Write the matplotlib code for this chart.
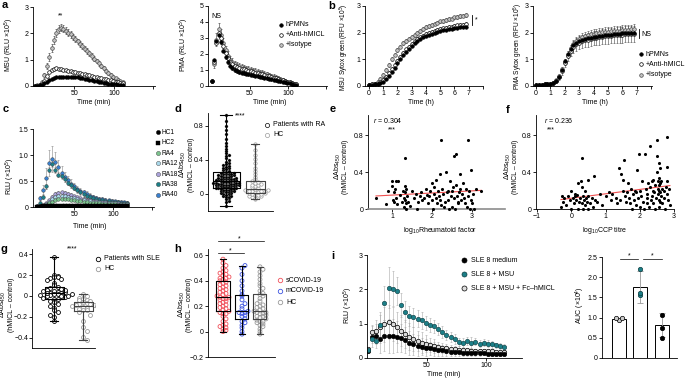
import numpy as np
import matplotlib
matplotlib.use('Agg')
import matplotlib.pyplot as plt
from matplotlib.lines import Line2D

FS = 5
plt.rcParams['font.family'] = ['Liberation Sans', 'DejaVu Sans']
plt.rcParams['mathtext.fontset'] = 'custom'
plt.rcParams['mathtext.rm'] = 'Liberation Sans'
plt.rcParams['mathtext.it'] = 'Liberation Sans:italic'
plt.rcParams['font.size'] = FS
plt.rcParams['axes.linewidth'] = 0.6

# ---------------- data ----------------
# a: luminol RLU (x10^5), sampled every 3 min
msu_iso = [0.0,0.02,0.05,0.15,0.4,0.75,1.1,1.45,1.75,2.0, 2.15,2.22,2.18,2.1,2.03,1.96,1.87,1.78,1.69,1.6,
           1.51,1.42,1.33,1.24,1.14,1.04,0.95,0.86,0.77,0.68, 0.58,0.5,0.41,0.35,0.29,0.23,0.19,0.15]
msu_iso_err = [0,0.01,0.02,0.04,0.08,0.12,0.15,0.15,0.15,0.15, 0.15,0.14,0.14,0.13,0.13,0.12,0.12,0.12,0.11,0.11,
               0.11,0.1,0.1,0.1,0.1,0.09,0.09,0.09,0.08,0.08, 0.08,0.07,0.07,0.07,0.06,0.06,0.05,0.05]
msu_anti = [0,0.01,0.03,0.08,0.2,0.38,0.52,0.6,0.65,0.67, 0.66,0.64,0.62,0.6,0.58,0.56,0.54,0.52,0.5,0.48,
            0.46,0.44,0.42,0.4,0.37,0.35,0.33,0.31,0.29,0.27, 0.25,0.23,0.21,0.19,0.17,0.15,0.13,0.12]
msu_pmn = [0,0.01,0.02,0.05,0.1,0.16,0.22,0.27,0.31,0.34, 0.35,0.36,0.36,0.36,0.36,0.35,0.35,0.34,0.33,0.31,
           0.3,0.28,0.26,0.24,0.22,0.2,0.18,0.16,0.14,0.12, 0.11,0.09,0.08,0.07,0.06,0.05,0.04,0.03]
pma_pmn = [0.3,1.6,2.8,3.2,2.75,2.2,1.8,1.5,1.28,1.12, 1.0,0.93,0.88,0.84,0.8,0.77,0.73,0.7,0.67,0.64,
           0.61,0.58,0.55,0.52,0.49,0.46,0.43,0.4,0.37,0.34, 0.31,0.27,0.24,0.2,0.16,0.12,0.09,0.06]
pma_anti = [0.3,1.5,2.7,3.3,3.0,2.5,2.05,1.72,1.5,1.35, 1.25,1.18,1.12,1.08,1.04,1.0,0.96,0.92,0.88,0.84,
            0.8,0.76,0.72,0.68,0.64,0.6,0.56,0.52,0.48,0.44, 0.4,0.36,0.32,0.27,0.22,0.17,0.13,0.1]
pma_iso = [0.3,1.4,2.9,3.55,3.2,2.7,2.25,1.9,1.65,1.48, 1.36,1.28,1.22,1.17,1.12,1.08,1.04,1.0,0.96,0.92,
           0.88,0.84,0.8,0.76,0.72,0.67,0.62,0.57,0.52,0.47, 0.42,0.38,0.33,0.28,0.23,0.18,0.14,0.1]
pma_iso_err = [0.1,0.3,0.4,0.4,0.35,0.3,0.28,0.26,0.25,0.24, 0.23,0.22,0.22,0.21,0.21,0.2,0.2,0.2,0.19,0.19,
               0.18,0.18,0.17,0.17,0.16,0.16,0.15,0.15,0.14,0.14, 0.13,0.12,0.11,0.1,0.09,0.08,0.07,0.06]
pma_pmn_err = 0.1

# b: Sytox green RFU (x10^5), every 0.2 h
sy_msu_pmn = [0.05,0.05,0.06,0.07,0.1,0.15,0.25,0.38,0.52,0.68, 0.85,1.0,1.15,1.28,1.4,1.5,1.6,1.68,1.75,1.82,
              1.87,1.92,1.96,2.0,2.03,2.06,2.09,2.11,2.13,2.15, 2.17,2.19,2.2,2.22,2.23]
sy_msu_anti = [0.05,0.06,0.07,0.09,0.14,0.22,0.34,0.48,0.63,0.79, 0.95,1.1,1.24,1.37,1.48,1.58,1.67,1.75,1.82,1.88,
               1.94,1.99,2.03,2.07,2.1,2.13,2.16,2.19,2.21,2.23, 2.25,2.27,2.29,2.3,2.32]
sy_msu_iso = [0.05,0.07,0.09,0.14,0.25,0.41,0.6,0.8,1.0,1.18, 1.35,1.48,1.6,1.7,1.78,1.85,1.92,1.99,2.06,2.13,
              2.2,2.25,2.3,2.34,2.38,2.42,2.45,2.48,2.5,2.53, 2.57,2.6,2.62,2.64,2.66]
sy_msu_err = 0.07
sy_pma_pmn = [0.05,0.05,0.05,0.06,0.07,0.09,0.12,0.2,0.35,0.6, 0.92,1.2,1.4,1.53,1.62,1.68,1.73,1.76,1.79,1.81,
              1.83,1.85,1.87,1.89,1.9,1.92,1.93,1.94,1.95,1.96, 1.97,1.98,1.99,1.99,2.0]
sy_pma_anti = [0.05,0.05,0.05,0.06,0.07,0.08,0.11,0.18,0.32,0.55, 0.85,1.12,1.33,1.47,1.56,1.62,1.67,1.71,1.74,1.77,
               1.79,1.81,1.83,1.85,1.86,1.88,1.89,1.9,1.91,1.92, 1.93,1.94,1.95,1.95,1.96]
sy_pma_iso = [0.05,0.05,0.05,0.06,0.07,0.09,0.13,0.22,0.38,0.62, 0.9,1.18,1.42,1.58,1.7,1.78,1.84,1.88,1.91,1.94,
              1.96,1.98,2.0,2.02,2.03,2.04,2.05,2.06,2.07,2.08, 2.09,2.1,2.11,2.12,2.13]
sy_pma_anti_err = [0.01,0.01,0.01,0.01,0.02,0.02,0.03,0.05,0.08,0.12, 0.15,0.18,0.2,0.22,0.23,0.24,0.25,0.25,0.26,0.26,
                   0.27,0.27,0.28,0.28,0.28,0.29,0.29,0.29,0.3,0.3, 0.3,0.3,0.3,0.3,0.3]
sy_pma_iso_err = [0.01,0.01,0.01,0.01,0.02,0.02,0.03,0.04,0.06,0.08, 0.1,0.12,0.13,0.14,0.15,0.15,0.15,0.16,0.16,0.16,
                  0.16,0.16,0.17,0.17,0.17,0.17,0.17,0.18,0.18,0.18, 0.18,0.18,0.18,0.18,0.18]

# c: patient RLU (x10^5), every 4 min from 2 min
c_names = ['HC1', 'HC2', 'RA4', 'RA12', 'RA18', 'RA38', 'RA40']
c_hc1 = [0.0,0.01,0.01,0.02,0.02,0.02,0.02,0.02,0.02,0.02, 0.02,0.02,0.02,0.02,0.02,0.02,0.01,0.01,0.01,0.01,
         0.01,0.01,0.01,0.01,0.01,0.01,0.01,0.01,0.01,0.01]
c_hc2 = [0.0,0.0,0.01,0.01,0.01,0.01,0.01,0.01,0.01,0.01, 0.01,0.01,0.01,0.01,0.01,0.01,0.01,0.01,0.01,0.01,
         0.01,0.01,0.01,0.01,0.01,0.01,0.01,0.01,0.01,0.01]
c_ra4 = [0.0,0.01,0.02,0.04,0.07,0.1,0.13,0.15,0.16,0.16, 0.15,0.14,0.13,0.12,0.11,0.1,0.09,0.08,0.08,0.07,
         0.07,0.06,0.06,0.05,0.05,0.05,0.04,0.04,0.04,0.04]
c_ra12 = [0.0,0.01,0.02,0.05,0.1,0.15,0.19,0.21,0.22,0.21, 0.2,0.18,0.17,0.16,0.14,0.13,0.12,0.11,0.1,0.1,
          0.09,0.08,0.08,0.07,0.07,0.07,0.06,0.06,0.06,0.05]
c_ra18 = [0.0,0.01,0.03,0.07,0.13,0.2,0.25,0.27,0.28,0.27, 0.25,0.23,0.21,0.19,0.17,0.16,0.14,0.13,0.12,0.11,
          0.1,0.09,0.09,0.08,0.08,0.07,0.07,0.06,0.06,0.06]
c_ra38 = [0.01,0.08,0.2,0.4,0.72,0.82,0.72,0.62,0.6,0.53, 0.47,0.42,0.37,0.32,0.28,0.25,0.22,0.2,0.18,0.16,
          0.14,0.13,0.12,0.11,0.1,0.09,0.09,0.08,0.07,0.07]
c_ra40 = [0.02,0.17,0.33,0.55,0.85,0.93,0.86,0.76,0.66,0.58, 0.51,0.45,0.4,0.35,0.31,0.28,0.25,0.22,0.2,0.18,
          0.16,0.15,0.14,0.13,0.12,0.11,0.1,0.09,0.09,0.08]
c_ra40_err = [0,0.05,0.1,0.2,0.25,0.25,0.2,0.15,0.12,0.1, 0.09,0.08,0.07,0.06,0.06,0.05,0.05,0.05,0.04,0.04,
              0.04,0.04,0.03,0.03,0.03,0.03,0.03,0.03,0.03,0.03]
c_ra38_err = 0.05
c_ra18_err = 0.03

# d: RA vs HC
d_ra = [-0.14,-0.1,-0.08,-0.06,-0.05,-0.04,-0.03,-0.02,-0.02,-0.01, 0.0,0.0,0.01,0.01,0.02,0.02,0.03,0.03,0.04,0.04,
        0.05,0.05,0.05,0.06,0.06,0.06,0.07,0.07,0.07,0.08, 0.08,0.08,0.09,0.09,0.09,0.1,0.1,0.1,0.1,0.11,
        0.11,0.11,0.12,0.12,0.12,0.12,0.13,0.13,0.13,0.13, 0.14,0.14,0.14,0.15,0.15,0.15,0.16,0.16,0.16,0.17,
        0.17,0.17,0.18,0.18,0.18,0.19,0.19,0.2,0.2,0.2, 0.21,0.21,0.22,0.22,0.23,0.23,0.24,0.24,0.25,0.25,
        0.26,0.27,0.28,0.29,0.3,0.31,0.32,0.33,0.34,0.35, 0.36,0.38,0.4,0.42,0.44,0.46,0.48,0.5,0.53,0.56,
        0.6,0.65,0.7,0.75,0.8,0.86,0.93]
d_hc = [-0.06,-0.05,-0.04,-0.03,-0.02,-0.02,-0.01,-0.01,0.0,0.0, 0.01,0.01,0.02,0.02,0.03,0.03,0.04,0.04,0.05,0.05,
        0.06,0.07,0.08,0.09,0.1,0.11,0.12,0.13,0.14,0.15, 0.17,0.2,0.23,0.27,0.31,0.36,0.41,0.46,0.52,0.59]

# e: rheumatoid factor vs dAbs
rf_x = [0.6,0.85,0.9,1.0,1.0,1.02,1.05,1.05,1.08,1.1, 1.1,1.12,1.15,1.2,1.25,1.28,1.3,1.3,1.32,1.33,
        1.33,1.33,1.35,1.35,1.35,1.38,1.4,1.45,1.5,1.55, 1.6,1.62,1.65,1.7,1.72,1.75,1.8,1.85,1.88,1.9,
        1.92,1.95,2.0,2.0,2.02,2.05,2.05,2.1,2.1,2.12, 2.15,2.18,2.2,2.2,2.22,2.24,2.25,2.28,2.3,2.32,
        2.35,2.38,2.4,2.4,2.42,2.45,2.48,2.5,2.5,2.52, 2.55,2.55,2.58,2.6,2.6,2.62,2.65,2.66,2.68,2.7,
        2.7,2.72,2.75,2.78,2.8,2.82,2.85,2.88,2.9,2.91, 2.92,2.95,2.98,2.99,3.0,3.02,3.05,3.1,3.24]
rf_y = [0.12,0.05,0.2,0.25,0.3,0.1,0.18,0.08,0.22,0.3, 0.12,0.05,0.3,0.15,0.08,0.2,0.02,0.12,0.25,0.55,
        0.18,0.1,0.06,0.22,0.0,0.14,0.08,0.03,0.2,0.12, 0.16,0.0,0.08,0.14,0.18,0.1,0.12,0.22,0.15,0.06,
        0.14,0.2,0.1,0.28,0.0,0.16,0.24,0.12,0.32,0.06, 0.2,0.14,0.38,0.1,0.75,0.04,0.22,0.16,0.02,0.08,
        0.4,0.18,0.2,0.1,0.0,0.3,0.14,0.02,0.2,0.24, 0.58,0.12,0.0,0.6,0.26,0.14,0.06,0.08,0.18,0.22,
        0.38,0.1,0.16,0.28,0.12,0.06,0.22,0.02,0.14,0.75, 0.2,0.0,0.1,0.42,0.06,0.16,0.0,0.22,0.19]

# f: CCP titre vs dAbs
ccp_x = [-0.3,-0.28,-0.25,-0.2,-0.15,-0.1,-0.05,0.0,0.0,0.05, 0.08,0.1,0.12,0.15,0.18,0.2,0.2,0.22,0.25,0.28,
         0.3,0.3,0.32,0.35,0.35,0.38,0.4,0.4,0.42,0.45, 0.48,0.5,0.5,0.55,0.6,0.62,0.65,0.7,0.75,0.85,
         0.9,1.0,1.1,1.15,1.2,1.3,1.35,1.4,1.42,1.45, 1.5,1.52,1.55,1.58,1.6,1.62,1.65,1.7,1.72,1.75,
         1.78,1.8,1.82,1.85,1.88,1.9,1.92,1.95,1.98,2.0, 2.02,2.05,2.08,2.1,2.12,2.15,2.18,2.2,2.2,2.22,
         2.25,2.28,2.3,2.3,2.32,2.35,2.35,2.38,2.4,2.4, 2.42,2.45,2.45,2.48,2.5,2.5,2.5,2.52,2.52,2.52,
         2.55,2.55,2.55,2.55,2.55,2.55,2.58,2.58,2.6,2.6, 2.62,2.62,2.65,2.65,2.7,2.7,2.75,2.78,2.8,2.8,
         2.8,2.8,2.82,2.85,2.88]
ccp_y = [0.02,0.14,0.08,0.12,0.04,0.14,0.1,0.0,0.2,0.12, 0.06,0.16,0.14,0.1,0.15,0.28,0.0,0.08,0.12,0.3,
         0.24,0.55,0.06,0.14,0.0,0.1,0.2,0.04,0.12,0.08, 0.32,0.0,0.14,0.06,0.12,0.02,0.36,0.1,0.08,0.16,
         0.04,0.14,0.18,0.1,0.16,0.12,0.06,0.45,0.1,0.38, 0.2,0.32,0.53,0.14,0.08,0.18,0.28,0.12,0.06,0.22,
         0.0,0.16,0.1,0.2,0.04,0.18,0.42,0.12,0.6,0.02, 0.2,0.14,0.3,0.08,0.0,0.6,0.22,0.16,0.12,0.06,
         0.28,0.02,0.68,0.24,0.1,0.3,0.14,0.2,0.06,0.32, 0.18,0.26,0.0,0.12,0.75,0.58,0.4,0.3,0.22,0.16,
         0.5,0.34,0.26,0.2,0.1,0.02,0.28,0.08,0.45,0.18, 0.14,0.3,0.22,0.06,0.2,0.12,0.0,0.24,0.78,0.46,
         0.3,0.16,0.1,0.22,0.04]

# g: SLE vs HC
g_sle = [0.37,0.2,0.19,0.18,0.18,0.17,0.16,0.15,0.12,0.1, 0.09,0.08,0.07,0.06,0.05,0.04,0.03,0.03,0.02,0.02,
         0.01,0.0,0.0,-0.01,-0.02,-0.03,-0.03,-0.05,-0.06,-0.08, -0.1,-0.12,-0.14,-0.15,-0.18,-0.2,-0.24,
         0.0,0.01,0.02,0.03,0.04,0.05,0.06]
g_hc = [0.02,0.0,-0.02,-0.03,-0.04,-0.04,-0.05,-0.06,-0.07,-0.08, -0.08,-0.09,-0.09,-0.1,-0.1,-0.11,-0.12,-0.13,
        -0.14,-0.14,-0.15,-0.18,-0.24,-0.3,-0.34,-0.39,-0.42]

# h: COVID-19
h_s = [0.0,0.01,0.02,0.03,0.04,0.05,0.06,0.08,0.1,0.12, 0.14,0.14,0.15,0.16,0.17,0.18,0.19,0.2,0.21,0.22,
       0.23,0.24,0.25,0.26,0.26,0.27,0.27,0.28,0.29,0.3, 0.31,0.32,0.33,0.34,0.35,0.36,0.37,0.38,0.39,0.4,
       0.41,0.42,0.42,0.43,0.44,0.45,0.46,0.47,0.48,0.5, 0.52,0.54,0.57]
h_m = [-0.02,0.0,0.03,0.05,0.07,0.08,0.1,0.12,0.13,0.14, 0.15,0.15,0.16,0.18,0.2,0.22,0.25,0.28,0.29,0.32,
       0.36,0.4,0.45,0.5,0.52]
h_hc = [-0.02,0.0,0.02,0.04,0.05,0.06,0.07,0.08,0.08,0.09, 0.1,0.11,0.12,0.12,0.13,0.14,0.14,0.15,0.15,0.16,
        0.17,0.18,0.19,0.2,0.21,0.22,0.24,0.26,0.28,0.29, 0.3,0.32,0.34,0.36,0.38,0.41,0.44,0.47,0.49,0.51]

# i: SLE 8 kinetics, every 3.5 min
i_msu = [0.23,0.55,0.5,0.95,1.6,2.05,2.02,1.95,1.55,1.35, 1.22,1.18,1.15,1.1,1.02,0.97,0.92,0.85,0.76,0.68,
         0.62,0.55,0.47,0.45,0.5,0.45,0.48,0.42,0.45,0.42, 0.4,0.37,0.35,0.32]
i_msu_err = [0.05,0.1,0.1,0.3,0.5,0.6,0.5,0.4,0.35,0.3, 0.3,0.28,0.25,0.25,0.2,0.2,0.2,0.18,0.18,0.15,
             0.15,0.15,0.12,0.12,0.12,0.15,0.1,0.1,0.1,0.1, 0.1,0.08,0.08,0.08]
i_med = [0.2,0.62,0.65,0.55,0.65,0.65,0.65,0.62,0.58,0.52, 0.45,0.4,0.36,0.33,0.3,0.28,0.26,0.24,0.22,0.2,
         0.18,0.18,0.17,0.16,0.16,0.15,0.15,0.14,0.14,0.13, 0.13,0.12,0.12,0.11]
i_med_err = [0.05,0.3,0.35,0.4,0.45,0.5,0.5,0.45,0.4,0.38, 0.35,0.3,0.3,0.25,0.25,0.2,0.2,0.18,0.15,0.15,
             0.12,0.12,0.1,0.1,0.1,0.08,0.08,0.08,0.06,0.06, 0.06,0.05,0.05,0.05]
i_fc = [0.25,0.75,0.8,0.9,0.98,1.05,1.0,0.9,0.8,0.7, 0.62,0.55,0.5,0.45,0.42,0.38,0.35,0.32,0.3,0.28,
        0.26,0.25,0.24,0.22,0.22,0.21,0.2,0.2,0.2,0.19, 0.19,0.18,0.18,0.17]
i_fc_err = [0.05,0.2,0.3,0.45,0.5,0.5,0.5,0.45,0.45,0.4, 0.4,0.35,0.3,0.3,0.25,0.2,0.2,0.15,0.15,0.12,
            0.12,0.1,0.1,0.08,0.08,0.08,0.06,0.06,0.06,0.06, 0.06,0.05,0.05,0.05]
auc_mean = [0.97, 1.76, 0.82]
auc_sd = [0.03, 0.39, 0.3]
auc_pts = [[0.95, 0.98, 1.0], [1.55, 1.6, 2.2], [0.5, 0.75, 1.07]]

# ---------------- helpers ----------------
W, H = 685, 386
fig = plt.figure(figsize=(W / 100, H / 100), dpi=100)


def add_ax(l, t, r, b):
    ax = fig.add_axes([l / W, 1 - b / H, (r - l) / W, (b - t) / H])
    ax.spines['top'].set_visible(False)
    ax.spines['right'].set_visible(False)
    ax.tick_params(length=2, width=0.6, labelsize=FS, pad=1.2)
    ax.patch.set_alpha(0)
    return ax


def ftext(x, y, s, **kw):
    kw.setdefault('fontsize', FS)
    kw.setdefault('ha', 'center')
    kw.setdefault('va', 'center')
    fig.text(x / W, 1 - y / H, s, **kw)


def fmark(x, y, **kw):
    fig.add_artist(Line2D([x / W], [1 - y / H], transform=fig.transFigure, ls='none', **kw))


def swarm_x(vals, center, step, bin_h):
    vals = np.asarray(vals, float)
    xs = np.full(len(vals), float(center))
    bins = np.round(vals / bin_h).astype(int)
    for b in np.unique(bins):
        idx = np.where(bins == b)[0]
        for k, i in enumerate(idx):
            xs[i] = center + ((k + 1) // 2) * step * (1 if k % 2 else -1)
    return xs


def box(ax, vals, pos, w, col):
    ax.boxplot(vals, positions=[pos], widths=w, whis=(0, 100), showfliers=False, manage_ticks=False,
               capwidths=w * 0.45,
               boxprops=dict(color=col, lw=0.8), medianprops=dict(color=col, lw=0.8),
               whiskerprops=dict(color=col, lw=0.8), capprops=dict(color=col, lw=0.8), zorder=4)


PMN = dict(marker='o', mfc='black', mec='black', ms=2.6, mew=0.4)
ANTI = dict(marker='o', mfc='white', mec='black', ms=2.6, mew=0.5)
ISO = dict(marker='o', mfc='#c4c4c4', mec='#4a4a4a', ms=2.6, mew=0.5)
EB = dict(fmt='none', elinewidth=0.4, capsize=1.0, capthick=0.4)
YL = 'ΔAbs$_{450}$\n(hMICL – control)'

# ---------------- a: MSU ----------------
ax = add_ax(33, 7, 155, 86)
t = np.arange(len(msu_iso)) * 3
ax.errorbar(t, msu_iso, yerr=msu_iso_err, ecolor='#333333', **EB)
ax.plot(t, msu_iso, ls='none', **ISO)
ax.plot(t, msu_anti, ls='none', **ANTI)
ax.plot(t, msu_pmn, ls='none', **PMN)
ax.set_xlim(-2.5, 152)
ax.set_ylim(0, 3)
ax.set_xticks([50, 100, 150], ['50', '100', ''])
ax.set_yticks([0, 1, 2, 3])
ax.text(32, 2.6, '**', ha='center', fontsize=FS)
ftext(94, 103, 'Time (min)')
ftext(9, 45, 'MSU (RLU ×10$^{5}$)', rotation=90)

# a: PMA
ax = add_ax(208, 6, 327, 86)
t = np.arange(len(pma_iso)) * 3
ax.errorbar(t, pma_iso, yerr=pma_iso_err, ecolor='#333333', **EB)
ax.errorbar(t, pma_pmn, yerr=pma_pmn_err, ecolor='#333333', **EB)
ax.plot(t, pma_iso, ls='none', **ISO)
ax.plot(t, pma_anti, ls='none', **ANTI)
ax.plot(t, pma_pmn, ls='none', **PMN)
ax.set_xlim(-5, 151)
ax.set_ylim(0, 5)
ax.set_xticks([50, 100, 150], ['50', '100', ''])
ax.set_yticks([0, 1, 2, 3, 4, 5])
ax.text(6, 4.25, 'NS', ha='center', fontsize=FS)
ftext(270, 102, 'Time (min)')
ftext(184, 45, 'PMA (RLU ×10$^{5}$)', rotation=90)
for yy, st, lab in [(25, PMN, 'hPMNs'), (35, ANTI, '+Anti-hMICL'), (45, ISO, '+Isotype')]:
    fmark(281, yy, **st)
    ftext(286, yy, lab, ha='left')

# ---------------- b ----------------
ax = add_ax(365, 6, 483, 86)
t = np.arange(len(sy_msu_iso)) * 0.2
ax.errorbar(t, sy_msu_iso, yerr=sy_msu_err, ecolor='#333333', **EB)
ax.errorbar(t, sy_msu_anti, yerr=sy_msu_err, ecolor='#333333', **EB)
ax.plot(t, sy_msu_iso, ls='none', **ISO)
ax.plot(t, sy_msu_anti, ls='none', **ANTI)
ax.plot(t, sy_msu_pmn, ls='none', **PMN)
ax.set_xlim(-0.28, 8.0)
ax.set_ylim(0, 3)
ax.set_xticks(range(9), [str(k) for k in range(8)] + [''])
ax.set_yticks([0, 1, 2, 3])
ax.plot([7.2, 7.2], [2.28, 2.66], color='black', lw=0.6, clip_on=False)
ax.text(7.45, 2.42, '*', fontsize=FS)
ftext(421, 102, 'Time (h)')
ftext(344, 47, 'MSU Sytox green (RFU ×10$^{5}$)', rotation=90, fontsize=4.7)

ax = add_ax(533, 6, 652, 86)
t = np.arange(len(sy_pma_iso)) * 0.2
ax.errorbar(t, sy_pma_anti, yerr=sy_pma_anti_err, ecolor='#444444', **EB)
ax.errorbar(t, sy_pma_iso, yerr=sy_pma_iso_err, ecolor='#444444', **EB)
ax.plot(t, sy_pma_iso, ls='none', **ISO)
ax.plot(t, sy_pma_anti, ls='none', **ANTI)
ax.plot(t, sy_pma_pmn, ls='none', **PMN)
ax.set_xlim(-0.2, 8.05)
ax.set_ylim(0, 3)
ax.set_xticks(range(9), [str(k) for k in range(8)] + [''])
ax.set_yticks([0, 1, 2, 3])
ax.plot([7.17, 7.17], [1.79, 2.12], color='black', lw=0.6, clip_on=False)
ax.text(7.3, 1.95, 'NS', fontsize=FS, va='center')
ftext(595, 102, 'Time (h)')
ftext(518, 46, 'PMA Sytox green (RFU ×10$^{5}$)', rotation=90, fontsize=4.7)
for yy, st, lab in [(54, PMN, 'hPMNs'), (64, ANTI, '+Anti-hMICL'), (75, ISO, '+Isotype')]:
    fmark(641, yy, **st)
    ftext(646, yy, lab, ha='left')

# ---------------- c ----------------
ax = add_ax(33, 129, 154, 207)
t = 2 + np.arange(len(c_ra40)) * 4
c_series = [c_hc1, c_hc2, c_ra4, c_ra12, c_ra18, c_ra38, c_ra40]
c_cols = ['black', 'black', '#7cc38e', '#a9d8ea', '#aaa3da', '#1c7f88', '#3a80cf']
c_mk = ['o', 's', 'o', 'o', 'o', 'o', 'o']
ax.errorbar(t, c_ra40, yerr=c_ra40_err, ecolor='#888888', **EB)
ax.errorbar(t, c_ra38, yerr=c_ra38_err, ecolor='#888888', **EB)
ax.errorbar(t, c_ra18, yerr=c_ra18_err, ecolor='#888888', **EB)
for ser, col, mk in zip(c_series[::-1], c_cols[::-1], c_mk[::-1]):
    ax.plot(t, ser, ls='none', marker=mk, mfc=col, mec='#333333' if col != 'black' else 'black',
            mew=0.3, ms=2.6)
ax.set_xlim(-2.5, 152)
ax.set_ylim(0, 1.5)
ax.set_xticks([50, 100, 150], ['50', '100', ''])
ax.set_yticks([0, 0.5, 1.0, 1.5], ['0', '0.5', '1.0', '1.5'])
ftext(90, 227, 'Time (min)')
ftext(10, 176, 'RLU (×10$^{5}$)', rotation=90)
for k, (lab, col, mk) in enumerate(zip(c_names, c_cols, c_mk)):
    yy = 132 + k * 10.5
    fmark(158, yy, marker=mk, mfc=col, mec='#333333' if col != 'black' else 'black', mew=0.3, ms=3)
    ftext(162, yy, lab, ha='left', fontsize=4.7)

# ---------------- d ----------------
ax = add_ax(208, 113, 273, 211)
ax.scatter(swarm_x(d_ra, 18, 2.6, 0.03), d_ra, s=5, c='black', lw=0.2, edgecolors='#666666', zorder=3)
ax.scatter(swarm_x(d_hc, 47, 3.2, 0.035), d_hc, s=6, facecolors='white', edgecolors='#9a9a9a', lw=0.5,
           zorder=3)
box(ax, d_ra, 18, 27, 'black')
box(ax, d_hc, 47, 19, '#444444')
ax.set_xlim(0, 65)
ax.set_ylim(-0.2, 0.95)
ax.set_xticks([])
ax.set_yticks([0, 0.4, 0.8], ['0', '0.4', '0.8'])
ax.text(32, 0.9, '****', ha='center', fontsize=FS)
ftext(186.5, 165, YL, rotation=90, linespacing=0.95)
fmark(267, 125, marker='o', mfc='white', mec='black', mew=0.5, ms=3)
ftext(273, 125, 'Patients with RA', ha='left')
fmark(267, 134.5, marker='o', mfc='white', mec='#9a9a9a', mew=0.5, ms=3)
ftext(273, 134.5, 'HC', ha='left')

# ---------------- e ----------------
ax = add_ax(368, 115, 505, 209)
ax.scatter(rf_x, rf_y, s=5, c='black', lw=0, zorder=3, clip_on=False)
k, b0 = np.polyfit(rf_x, rf_y, 1)
xx = np.array([min(rf_x), max(rf_x)])
ax.plot(xx, k * xx + b0, color='#f05050', lw=0.8, zorder=2)
ax.set_xlim(0.4, 3.83)
ax.set_ylim(0, 1.02)
ax.set_xticks([1, 2, 3])
ax.set_yticks([0, 0.4, 0.8], ['0', '0.4', '0.8'])
ax.spines['bottom'].set_color('#8c8c8c')
ax.spines['bottom'].set_linewidth(1.2)
ax.text(0.52, 0.96, '$r$ = 0.304', fontsize=FS, va='center')
ax.text(0.9, 0.86, '***', fontsize=FS, va='center')
ftext(440, 230, 'log$_{10}$Rheumatoid factor')
ftext(341, 167, YL, rotation=90, linespacing=0.95)

# ---------------- f ----------------
ax = add_ax(536, 115, 674, 209)
ax.scatter(ccp_x, ccp_y, s=5, c='black', lw=0, zorder=3, clip_on=False)
k, b0 = np.polyfit(ccp_x, ccp_y, 1)
xx = np.array([min(ccp_x), max(ccp_x)])
ax.plot(xx, k * xx + b0, color='#f05050', lw=0.8, zorder=2)
ax.set_xlim(-1.03, 3.0)
ax.set_ylim(0, 1.02)
ax.set_xticks([-1, 0, 1, 2, 3])
ax.set_yticks([0, 0.4, 0.8], ['0', '0.4', '0.8'])
ax.text(-0.8, 0.96, '$r$ = 0.236', fontsize=FS, va='center')
ax.text(-0.7, 0.86, '***', fontsize=FS, va='center')
ftext(605, 230, 'log$_{10}$CCP titre')
ftext(511, 167, YL, rotation=90, linespacing=0.95)

# ---------------- g ----------------
ax = add_ax(32, 249, 95, 348)
ax.scatter(swarm_x(g_sle, 22, 3.6, 0.04), g_sle, s=8, facecolors='white', edgecolors='black', lw=0.6,
           zorder=3)
ax.scatter(swarm_x(g_hc, 51, 3.6, 0.04), g_hc, s=8, facecolors='white', edgecolors='#9a9a9a', lw=0.6,
           zorder=3)
box(ax, g_sle, 22, 19, 'black')
box(ax, g_hc, 51, 19, '#444444')
ax.set_xlim(0, 63)
ax.set_ylim(-0.5, 0.45)
ax.set_xticks([])
ax.set_yticks([-0.4, -0.2, 0, 0.2, 0.4], ['−0.4', '−0.2', '0', '0.2', '0.4'])
ax.tick_params(axis='y', pad=0.8)
ax.text(40, 0.44, '****', ha='center', fontsize=FS)
ftext(6.3, 305, YL, rotation=90, linespacing=0.95)
fmark(98, 258.5, marker='o', mfc='white', mec='black', mew=0.6, ms=3.2)
ftext(104, 258.5, 'Patients with SLE', ha='left')
fmark(98, 269, marker='o', mfc='white', mec='#9a9a9a', mew=0.6, ms=3.2)
ftext(104, 269, 'HC', ha='left')

# ---------------- h ----------------
ax = add_ax(208, 249, 275, 357)
h_cols = ['#f0505a', '#3e55e0', '#9a9a9a']
ax.scatter(swarm_x(h_s, 15, 3.0, 0.03), h_s, s=8, facecolors='none', edgecolors=h_cols[0], lw=0.6, zorder=3)
ax.scatter(swarm_x(h_m, 34, 3.0, 0.03), h_m, s=8, facecolors='none', edgecolors=h_cols[1], lw=0.6, zorder=3)
ax.scatter(swarm_x(h_hc, 52, 3.0, 0.03), h_hc, s=8, facecolors='none', edgecolors=h_cols[2], lw=0.6, zorder=3)
box(ax, h_s, 15, 15, 'black')
box(ax, h_m, 34, 13, 'black')
box(ax, h_hc, 52, 13, '#444444')
ax.set_xlim(0, 67)
ax.set_ylim(-0.2, 0.65)
ax.set_xticks([])
ax.set_yticks([-0.2, 0, 0.2, 0.4, 0.6], ['−0.2', '0', '0.2', '0.4', '0.6'])
ax.plot([10, 36], [0.62, 0.62], color='black', lw=0.5, clip_on=False)
ax.text(22, 0.625, '*', ha='center', fontsize=FS)
ax.plot([10, 56], [0.71, 0.71], color='black', lw=0.5, clip_on=False)
ax.text(31, 0.715, '*', ha='center', fontsize=FS)
ftext(185, 305, YL, rotation=90, linespacing=0.95)
for yy, col, lab in [(280, h_cols[0], 'sCOVID-19'), (291, h_cols[1], 'mCOVID-19'), (302, h_cols[2], 'HC')]:
    fmark(280, yy, marker='o', mfc='none', mec=col, mew=0.6, ms=3.2)
    ftext(286, yy, lab, ha='left')

# ---------------- i ----------------
ax = add_ax(367, 255, 522, 358)
t = np.arange(len(i_msu)) * 3.5
ax.errorbar(t, i_msu, yerr=i_msu_err, ecolor='#aaaaaa', **EB)
ax.errorbar(t, i_fc, yerr=i_fc_err, ecolor='#aaaaaa', **EB)
ax.errorbar(t, i_med, yerr=i_med_err, ecolor='#aaaaaa', **EB)
ax.plot(t, i_fc, ls='none', marker='o', mfc='#dddddd', mec='black', mew=0.5, ms=3.2)
ax.plot(t, i_med, ls='none', marker='o', mfc='black', mec='black', mew=0.4, ms=3.2)
ax.plot(t, i_msu, ls='none', marker='o', mfc='#1c7f88', mec='#0d3d40', mew=0.4, ms=3.2)
ax.set_xlim(-0.8, 130.5)
ax.set_ylim(0, 3)
ax.set_xticks([50, 100])
ax.set_yticks([0, 1, 2, 3])
ftext(444, 374, 'Time (min)')
ftext(348, 305, 'RLU (×10$^{5}$)', rotation=90)
for yy, st, lab in [(260, dict(mfc='black', mec='black'), 'SLE 8 medium'),
                    (274, dict(mfc='#1c7f88', mec='#0d3d40'), 'SLE 8 + MSU'),
                    (288, dict(mfc='#dddddd', mec='black'), 'SLE 8 + MSU + Fc–hMICL')]:
    fmark(464, yy, marker='o', ms=3.6, mew=0.5, **st)
    ftext(471, yy, lab, ha='left')

ax = add_ax(602, 257, 677, 358)
pos = [17, 38, 60]
ax.bar(pos, auc_mean, width=14, color='white', edgecolor='black', lw=0.7, zorder=1)
ax.errorbar(pos, auc_mean, yerr=auc_sd, fmt='none', ecolor='#999999', elinewidth=0.6, capsize=2,
            capthick=0.6, zorder=2)
pt_style = [dict(facecolors='#cccccc', edgecolors='black'), dict(facecolors='#1c7f88', edgecolors='#0d3d40'),
            dict(facecolors='black', edgecolors='black')]
for p, vals, st in zip(pos, auc_pts, pt_style):
    ax.scatter(swarm_x(vals, p, 3.2, 0.08), vals, s=10, lw=0.5, zorder=3, **st)
ax.set_xlim(0, 75)
ax.set_ylim(0, 2.5)
ax.set_xticks([])
ax.set_yticks([0, 0.5, 1.0, 1.5, 2.0, 2.5], ['0', '0.5', '1.0', '1.5', '2.0', '2.5'])
ax.plot([18, 36], [2.45, 2.45], color='black', lw=0.5, clip_on=False)
ax.plot([41, 60], [2.45, 2.45], color='black', lw=0.5, clip_on=False)
ax.text(27, 2.5, '*', ha='center', fontsize=FS)
ax.text(50, 2.5, '*', ha='center', fontsize=FS)
ftext(580, 305, 'AUC (×10$^{4}$)', rotation=90)

# panel letters
for x, y, s in [(5, 5, 'a'), (332, 6, 'b'), (6, 109, 'c'), (178, 109, 'd'), (333, 109, 'e'),
                (508, 110, 'f'), (4, 249, 'g'), (178, 249, 'h'), (333, 256, 'i')]:
    ftext(x, y, s, fontsize=8, fontweight='bold')

fig.savefig('out.png', dpi=100)
